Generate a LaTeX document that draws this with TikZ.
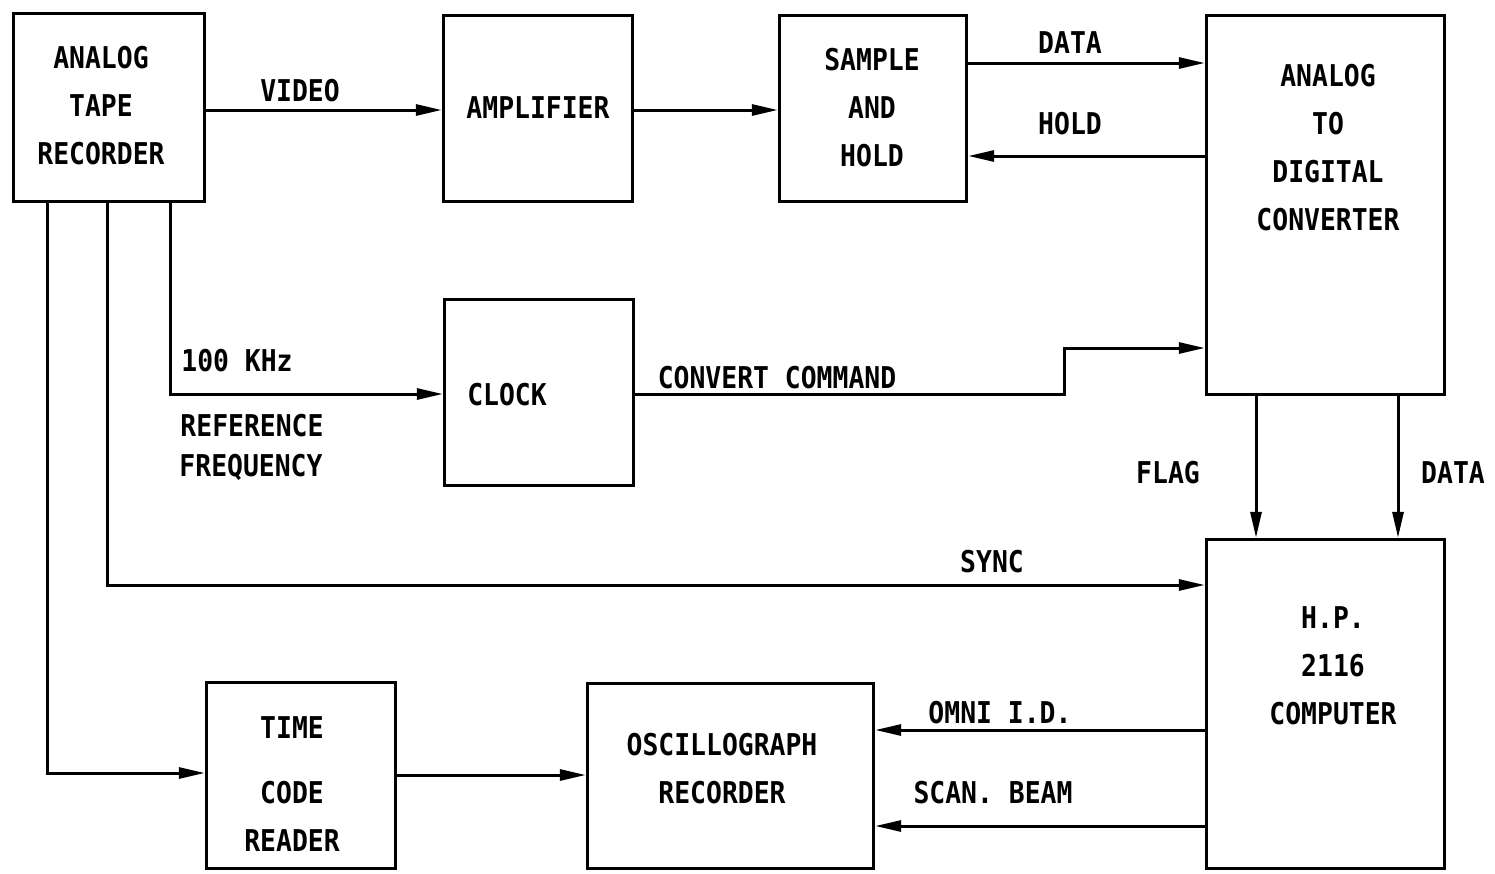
\documentclass[tikz,border=0pt]{standalone}
\usepackage{fontspec}
\newfontfamily\tw[FakeStretch=0.88]{DejaVu Sans Mono}
\usetikzlibrary{arrows.meta}
\begin{document}
\begin{tikzpicture}[x=1pt,y=-1pt,
  box/.style={draw, line width=3.4pt, inner sep=0pt},
  txt/.style={font=\tw\bfseries\fontsize{30}{48}\selectfont, align=center, inner sep=0pt},
  arr/.style={line width=3pt, -{Triangle[length=26pt,width=11pt]}}]
\useasboundingbox (0,0) rectangle (1495,873);
\fill[white] (0,0) rectangle (1495,873);
% boxes
\node[box, minimum width=191pt, minimum height=188pt] (atr) at (109,107.5) {};
\node[box, minimum width=189pt, minimum height=186pt] (amp) at (538,108.5) {};
\node[box, minimum width=187pt, minimum height=186pt] (sh)  at (873,108.5) {};
\node[box, minimum width=238pt, minimum height=379pt] (adc) at (1325.5,205) {};
\node[box, minimum width=189pt, minimum height=186pt] (clk) at (539,392.5) {};
\node[box, minimum width=238pt, minimum height=329pt] (hp)  at (1325.5,704) {};
\node[box, minimum width=189pt, minimum height=186pt] (tcr) at (301,775.5) {};
\node[box, minimum width=286pt, minimum height=185pt] (osc) at (730.5,776) {};
% box texts
\node[txt] (atrt) at (101,106) {ANALOG\\TAPE\\RECORDER};
\node[txt] (ampt) at (538,108) {AMPLIFIER};
\node[txt] (sht)  at (872,108) {SAMPLE\\AND\\HOLD};
\node[txt] (adct) at (1328,148) {ANALOG\\TO\\DIGITAL\\CONVERTER};
\node[txt] (clkt) at (507,395) {CLOCK};
\node[txt] (hpt)  at (1333,666) {H.P.\\2116\\COMPUTER};
\node[txt] (tcrt) at (292,784) {TIME\\[17pt]CODE\\READER};
\node[txt] (osct) at (722,769) {OSCILLOGRAPH\\RECORDER};
% connectors
\draw[arr] (atr.east |- 0,110) -- (amp.west |- 0,110);
\draw[arr] (amp.east |- 0,110) -- (sh.west |- 0,110);
\draw[arr] (sh.east |- 0,63) -- (adc.west |- 0,63);
\draw[arr] (adc.west |- 0,156) -- (sh.east |- 0,156);
\draw[arr] (atr.south -| 170,0) |- (clk.west |- 0,394);
\draw[arr] (clk.east |- 0,394) -| (1064,348) -- (adc.west |- 0,348);
\draw[arr] (adc.south -| 1256,0) -- (hp.north -| 1256,0);
\draw[arr] (adc.south -| 1398,0) -- (hp.north -| 1398,0);
\draw[arr] (atr.south -| 107,0) |- (hp.west |- 0,585);
\draw[arr] (atr.south -| 47,0) |- (tcr.west |- 0,773);
\draw[arr] (tcr.east |- 0,775) -- (osc.west |- 0,775);
\draw[arr] (hp.west |- 0,730) -- (osc.east |- 0,730);
\draw[arr] (hp.west |- 0,826) -- (osc.east |- 0,826);
% labels
\node[txt] (lvideo) at (300,91) {VIDEO};
\node[txt] (ldata1) at (1070,43) {DATA};
\node[txt] (lhold) at (1070,124) {HOLD};
\node[txt] (lkhz) at (237,361) {100 KHz};
\node[txt] (lref) at (252,426) {REFERENCE};
\node[txt] (lfreq) at (251,467) {FREQUENCY};
\node[txt] (lconv) at (777,378) {CONVERT COMMAND};
\node[txt] (lflag) at (1168,473) {FLAG};
\node[txt] (ldata2) at (1453,473) {DATA};
\node[txt] (lsync) at (992,562) {SYNC};
\node[txt] (lomni) at (1000,713) {OMNI I.D.};
\node[txt] (lscan) at (993,793) {SCAN. BEAM};
\end{tikzpicture}
\end{document}
